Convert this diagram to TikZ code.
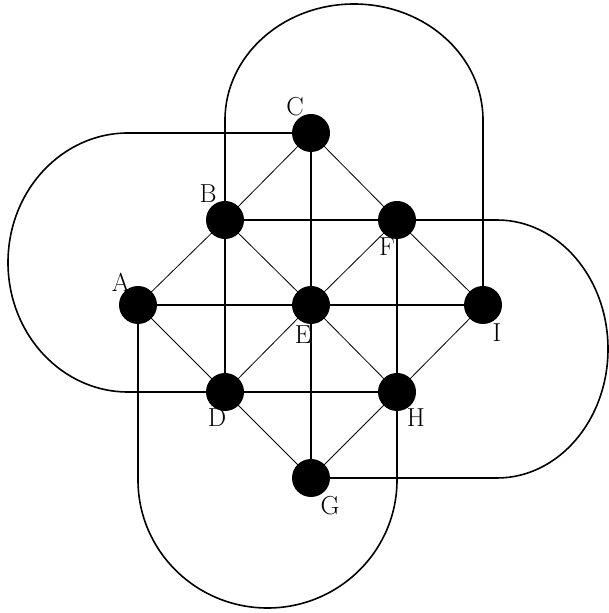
\documentclass[tikz,border=0pt]{standalone}
\begin{document}
\begin{tikzpicture}[x=1pt,y=1pt,
  vtx/.style={circle,fill=black,minimum size=38pt,inner sep=0pt},
  lbl/.style={font=\fontsize{26}{30}\selectfont,inner sep=0pt},
  grid/.style={line width=2pt},
  diag/.style={line width=0.8pt},
  loop/.style={line width=1.6pt}]
\useasboundingbox (0,0) rectangle (608,613);
\coordinate (A) at (138,308);
\coordinate (B) at (225,393);
\coordinate (C) at (311,480);
\coordinate (D) at (225,221);
\coordinate (E) at (311,308);
\coordinate (F) at (397,393);
\coordinate (G) at (311,135);
\coordinate (H) at (397,221);
\coordinate (I) at (483,308);
% outer loops
\draw[loop] (C) -- ++(-183,0) arc[start angle=90,end angle=270,x radius=120,y radius=129.5] -- (D);
\draw[loop] (B) -- ++(0,100) arc[start angle=180,end angle=0,x radius=129,y radius=116] -- (I);
\draw[loop] (F) -- ++(100,0) arc[start angle=90,end angle=-90,x radius=111,y radius=129] -- (G);
\draw[loop] (A) -- ++(0,-175) arc[start angle=180,end angle=360,x radius=129.5,y radius=128] -- (H);
% grid lines
\draw[grid] (B) -- (F);
\draw[grid] (A) -- (E) -- (I);
\draw[grid] (D) -- (H);
\draw[grid] (B) -- (D);
\draw[grid] (F) -- (H);
\draw[grid] (C) -- (E) -- (G);
% diagonals
\draw[diag] (A) -- (B) -- (C) -- (F) -- (I) -- (H) -- (G) -- (D) -- cycle;
\draw[diag] (B) -- (E) -- (H);
\draw[diag] (D) -- (E) -- (F);
% vertices
\foreach \n in {A,B,C,D,E,F,G,H,I} \node[vtx] (v\n) at (\n) {};
% labels
\node[lbl] (lA) at (121,331) {A};
\node[lbl] (lB) at (208,419) {B};
\node[lbl] (lC) at (295,506) {C};
\node[lbl] (lD) at (217,195) {D};
\node[lbl] (lE) at (303,278) {E};
\node[lbl] (lF) at (387,366) {F};
\node[lbl] (lG) at (330,107) {G};
\node[lbl] (lH) at (416,195) {H};
\node[lbl] (lI) at (497,280) {I};
\end{tikzpicture}
\end{document}
